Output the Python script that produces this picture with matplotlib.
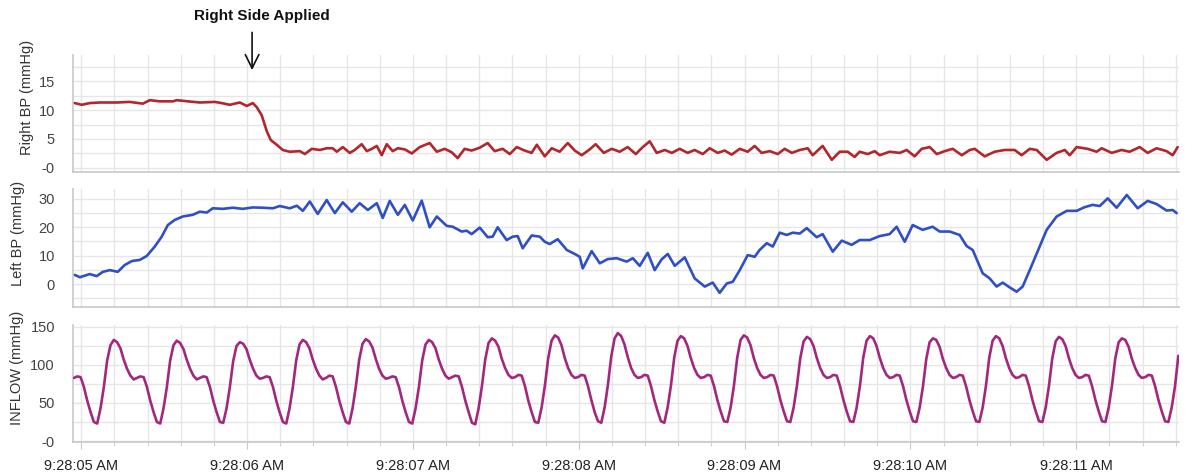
import numpy as np
import matplotlib
matplotlib.use("Agg")
import matplotlib.pyplot as plt
from matplotlib.ticker import FixedLocator, MultipleLocator

# ---------------- data (seconds after 9:28:00) ----------------
TICK_SEC = [5, 6, 7, 8, 9, 10, 11]
TICK_LABELS = ["9:28:05 AM", "9:28:06 AM", "9:28:07 AM", "9:28:08 AM",
               "9:28:09 AM", "9:28:10 AM", "9:28:11 AM"]

RIGHT_T = [4.961, 5.003, 5.051, 5.112, 5.214, 5.292, 5.371, 5.413, 5.473, 5.552,
           5.576, 5.642, 5.715, 5.805, 5.847, 5.895, 5.956, 5.998, 6.034, 6.058,
           6.088, 6.119, 6.143, 6.179, 6.215, 6.257, 6.318, 6.348, 6.390, 6.438,
           6.480, 6.516, 6.541, 6.577, 6.619, 6.649, 6.691, 6.722, 6.752, 6.782,
           6.812, 6.842, 6.878, 6.909, 6.951, 6.993, 7.041, 7.101, 7.144, 7.192,
           7.234, 7.270, 7.312, 7.354, 7.403, 7.451, 7.493, 7.541, 7.584, 7.626,
           7.674, 7.716, 7.747, 7.795, 7.837, 7.885, 7.934, 7.976, 8.018, 8.066,
           8.102, 8.151, 8.199, 8.247, 8.295, 8.344, 8.386, 8.428, 8.470, 8.519,
           8.561, 8.609, 8.657, 8.699, 8.748, 8.790, 8.838, 8.880, 8.922, 8.971,
           9.019, 9.061, 9.103, 9.152, 9.200, 9.242, 9.285, 9.333, 9.381, 9.411,
           9.471, 9.526, 9.574, 9.622, 9.664, 9.694, 9.743, 9.785, 9.815, 9.875,
           9.936, 9.978, 10.026, 10.068, 10.117, 10.159, 10.207, 10.255, 10.310, 10.358,
           10.388, 10.448, 10.508, 10.569, 10.629, 10.671, 10.720, 10.762, 10.822, 10.882,
           10.931, 10.961, 11.003, 11.069, 11.123, 11.154, 11.214, 11.274, 11.322, 11.383,
           11.431, 11.485, 11.545, 11.582, 11.612]
RIGHT_BP = [11.2, 10.9, 11.2, 11.3, 11.3, 11.4, 11.1, 11.7, 11.5, 11.5,
            11.7, 11.5, 11.3, 11.4, 11.2, 10.9, 11.3, 10.7, 11.2, 10.5,
            9.1, 6.3, 4.8, 4.0, 3.1, 2.8, 2.9, 2.4, 3.3, 3.1,
            3.4, 3.4, 2.8, 3.6, 2.6, 3.1, 4.1, 2.9, 3.3, 3.8,
            2.2, 4.1, 2.9, 3.4, 3.2, 2.5, 3.6, 4.3, 2.8, 3.3,
            2.7, 1.7, 3.3, 3.0, 3.5, 4.3, 2.9, 3.3, 2.4, 3.6,
            3.0, 2.6, 4.0, 2.0, 3.4, 2.8, 4.3, 3.0, 2.2, 3.2,
            4.1, 2.6, 3.3, 2.8, 3.6, 2.4, 3.6, 4.6, 2.6, 3.1,
            2.6, 3.3, 2.6, 3.1, 2.4, 3.4, 2.6, 3.0, 2.3, 3.3,
            2.8, 3.8, 2.6, 2.9, 2.4, 3.3, 2.6, 3.1, 3.4, 2.2,
            3.8, 1.4, 2.8, 2.8, 1.9, 2.8, 2.4, 2.9, 2.2, 2.8,
            2.6, 3.1, 2.0, 3.3, 3.6, 2.4, 2.9, 3.3, 2.2, 3.1,
            3.3, 2.0, 2.8, 3.1, 3.1, 2.2, 3.3, 3.1, 1.4, 2.6,
            3.1, 2.2, 3.6, 3.3, 2.8, 3.4, 2.6, 3.1, 2.8, 3.6,
            2.6, 3.4, 2.9, 2.2, 3.6]

LEFT_T = [4.961, 4.991, 5.051, 5.093, 5.130, 5.172, 5.220, 5.262, 5.305, 5.353,
          5.395, 5.443, 5.485, 5.522, 5.564, 5.612, 5.672, 5.715, 5.757, 5.793,
          5.853, 5.914, 5.974, 6.034, 6.094, 6.155, 6.197, 6.257, 6.300, 6.336,
          6.378, 6.426, 6.480, 6.529, 6.577, 6.631, 6.679, 6.728, 6.782, 6.818,
          6.860, 6.909, 6.951, 6.999, 7.053, 7.101, 7.144, 7.204, 7.240, 7.294,
          7.324, 7.354, 7.403, 7.451, 7.481, 7.511, 7.565, 7.602, 7.632, 7.662,
          7.716, 7.765, 7.795, 7.825, 7.873, 7.928, 7.976, 8.006, 8.024, 8.078,
          8.127, 8.175, 8.229, 8.289, 8.326, 8.368, 8.416, 8.458, 8.500, 8.537,
          8.579, 8.639, 8.699, 8.760, 8.808, 8.850, 8.893, 8.929, 8.971, 9.019,
          9.061, 9.091, 9.134, 9.170, 9.212, 9.254, 9.291, 9.333, 9.375, 9.435,
          9.471, 9.532, 9.586, 9.646, 9.694, 9.755, 9.815, 9.875, 9.917, 9.966,
          10.014, 10.074, 10.134, 10.177, 10.237, 10.297, 10.339, 10.376, 10.436, 10.478,
          10.520, 10.557, 10.599, 10.641, 10.677, 10.720, 10.780, 10.822, 10.882, 10.943,
          11.003, 11.051, 11.099, 11.142, 11.190, 11.244, 11.305, 11.371, 11.431, 11.485,
          11.545, 11.582, 11.606]
LEFT_BP = [3.2, 2.4, 3.5, 2.8, 4.3, 4.9, 4.3, 6.7, 8.1, 8.5,
           9.9, 13.2, 16.7, 20.8, 22.6, 23.8, 24.4, 25.5, 25.2, 26.7,
           26.5, 26.9, 26.5, 27.0, 26.9, 26.7, 27.5, 26.7, 27.6, 25.8,
           29.1, 24.7, 29.6, 25.0, 28.8, 25.5, 28.5, 26.1, 28.5, 23.3,
           29.3, 24.4, 27.9, 22.4, 29.4, 20.0, 23.8, 20.5, 20.2, 18.5,
           18.8, 17.6, 19.9, 16.5, 16.7, 20.0, 15.5, 16.7, 16.9, 12.6,
           17.1, 16.7, 14.9, 14.1, 15.8, 12.0, 10.6, 9.6, 5.5, 11.6,
           7.3, 8.8, 9.1, 7.9, 9.1, 6.4, 11.0, 4.9, 8.7, 10.6,
           6.4, 9.4, 2.0, -0.9, 0.5, -3.1, 0.2, 0.8, 4.9, 10.2,
           9.6, 12.0, 14.4, 13.2, 18.1, 17.3, 18.1, 17.8, 19.7, 16.5,
           17.6, 11.4, 15.3, 13.8, 15.5, 15.5, 16.9, 17.6, 20.2, 14.9,
           20.8, 19.1, 20.2, 18.5, 18.5, 17.3, 13.4, 12.0, 3.8, 2.0,
           -0.9, 0.5, -1.2, -2.7, -0.9, 4.9, 13.2, 19.1, 23.8, 25.8,
           25.8, 27.1, 27.9, 27.5, 30.2, 26.9, 31.4, 26.7, 29.3, 28.2,
           25.9, 26.1, 25.0]

# INFLOW: sampled every 20 ms starting at 9:28:04.956
INFLOW_T0 = 4.956
INFLOW_DT = 0.02
INFLOW = [
    83, 85, 84, 71, 53, 38, 25, 23, 43, 71, 106, 126,
    133, 130, 122, 107, 95, 86, 81, 83, 85, 84, 71, 53, 38, 25, 23, 43, 71, 106, 126,
    132, 129, 121, 107, 95, 86, 81, 83, 85, 84, 71, 53, 38, 25, 24, 43, 71, 105, 125,
    130, 128, 121, 107, 95, 86, 82, 83, 85, 84, 71, 53, 38, 25, 23, 43, 71, 106, 127,
    133, 130, 122, 107, 95, 86, 81, 83, 86, 85, 71, 53, 38, 25, 23, 43, 72, 107, 128,
    134, 131, 123, 108, 95, 86, 82, 83, 85, 84, 71, 53, 38, 25, 23, 43, 71, 106, 127,
    133, 130, 122, 107, 95, 86, 82, 84, 86, 85, 71, 53, 38, 24, 22, 43, 72, 107, 129,
    135, 132, 124, 108, 96, 87, 83, 84, 87, 86, 72, 53, 38, 25, 24, 44, 73, 109, 132,
    139, 136, 126, 109, 96, 87, 83, 84, 87, 86, 72, 54, 38, 26, 24, 44, 74, 111, 135,
    142, 138, 127, 110, 96, 87, 83, 84, 87, 86, 72, 54, 39, 26, 24, 44, 73, 110, 132,
    138, 135, 125, 109, 96, 87, 83, 84, 87, 86, 72, 54, 39, 26, 25, 44, 73, 110, 133,
    139, 136, 126, 109, 96, 87, 83, 84, 87, 86, 72, 54, 39, 26, 25, 44, 73, 109, 131,
    137, 134, 125, 109, 96, 87, 83, 84, 87, 86, 72, 54, 39, 26, 25, 44, 73, 110, 132,
    138, 135, 125, 109, 96, 87, 83, 84, 87, 86, 72, 54, 39, 26, 25, 44, 72, 108, 130,
    135, 133, 124, 108, 96, 87, 83, 84, 87, 86, 72, 54, 39, 26, 25, 44, 73, 110, 132,
    138, 135, 125, 109, 96, 87, 83, 84, 87, 86, 72, 54, 39, 26, 25, 44, 73, 109, 131,
    137, 134, 125, 109, 96, 87, 83, 84, 87, 86, 72, 54, 39, 26, 25, 44, 73, 109, 130,
    135, 133, 124, 108, 96, 87, 83, 84, 87, 86, 72, 54, 39, 26, 25, 44, 72, 112,
]

RIGHT_YTICKS = [0, 5, 10, 15]
RIGHT_YLABELS = ["-0", "5", "10", "15"]
LEFT_YTICKS = [0, 10, 20, 30]
LEFT_YLABELS = ["0", "10", "20", "30"]
INFLOW_YTICKS = [0, 50, 100, 150]
INFLOW_YLABELS = ["-0", "50", "100", "150"]

ANNOT_TIME = 6.03
ANNOT_TEXT = "Right Side Applied"

# ---------------- figure ----------------
plt.rcParams["font.family"] = ["Liberation Sans", "DejaVu Sans"]
W, H = 1198, 475
fig = plt.figure(figsize=(W / 100, H / 100), dpi=100)
fig.patch.set_facecolor("white")


def add_ax(left, top, right, bottom):
    return fig.add_axes([left / W, 1 - bottom / H, (right - left) / W, (bottom - top) / H])


ax1 = add_ax(73, 55, 1179, 172)
ax2 = add_ax(73, 189, 1179, 307)
ax3 = add_ax(73, 325, 1179, 442)

GRID = "#e6e6e6"
AXC = "#c8c8c8"
TXT = "#444444"

inflow_t = INFLOW_T0 + INFLOW_DT * np.arange(len(INFLOW))

specs = [
    (ax1, RIGHT_T, RIGHT_BP, "#b2262c", (-0.7, 19.5), 2.5, RIGHT_YTICKS, RIGHT_YLABELS),
    (ax2, LEFT_T, LEFT_BP, "#2f4fc6", (-8.1, 33.5), 5, LEFT_YTICKS, LEFT_YLABELS),
    (ax3, inflow_t, INFLOW, "#a2287f", (-1.3, 152.6), 25, INFLOW_YTICKS, INFLOW_YLABELS),
]

for ax, t, v, col, ylim, ystep, yt, yl in specs:
    ax.plot(t, v, color=col, lw=1.9, solid_joinstyle="round", solid_capstyle="round", zorder=3)
    ax.set_xlim(4.95, 11.62)
    ax.set_ylim(*ylim)
    ax.xaxis.set_major_locator(FixedLocator(TICK_SEC))
    ax.xaxis.set_minor_locator(MultipleLocator(0.2))
    ax.yaxis.set_major_locator(FixedLocator(yt))
    ax.yaxis.set_minor_locator(MultipleLocator(ystep))
    ax.set_yticklabels(yl)
    ax.grid(which="both", color=GRID, lw=1.0, zorder=0)
    ax.set_axisbelow(True)
    for s in ("top", "right"):
        ax.spines[s].set_visible(False)
    for s in ("left", "bottom"):
        ax.spines[s].set_color(AXC)
        ax.spines[s].set_linewidth(1.2)
    ax.tick_params(axis="y", which="both", length=0, pad=13, labelsize=10.5, labelcolor=TXT)
    ax.tick_params(axis="x", which="both", length=0, labelbottom=False)

ax3.set_xticks(TICK_SEC)
ax3.set_xticklabels(TICK_LABELS)
ax3.tick_params(axis="x", which="major", length=5, color=AXC, pad=7,
                labelbottom=True, labelsize=10.5, labelcolor="#222222")
ax3.tick_params(axis="x", which="minor", length=3, color=AXC)

# y-axis titles
fig.text(27 / W, 1 - 97 / H, "Right BP (mmHg)", rotation=90, ha="center", va="center",
         fontsize=10.5, color="#333333")
fig.text(18 / W, 1 - 233 / H, "Left BP (mmHg)", rotation=90, ha="center", va="center",
         fontsize=10.5, color="#333333")
fig.text(17 / W, 1 - 368 / H, "INFLOW (mmHg)", rotation=90, ha="center", va="center",
         fontsize=10.5, color="#333333")

# annotation
fig.text(262 / W, 1 - 16 / H, ANNOT_TEXT, ha="center", va="center",
         fontsize=11, fontweight="bold", color="#111111")
ax1.annotate("", xy=(ANNOT_TIME, 16.9), xytext=(ANNOT_TIME, 23.4),
             xycoords="data", textcoords="data", annotation_clip=False,
             arrowprops=dict(arrowstyle="->,head_length=0.7,head_width=0.35",
                             color="#111111", lw=1.2, mutation_scale=14,
                             shrinkA=0, shrinkB=0))

fig.savefig("out.png", dpi=100, facecolor="white")
